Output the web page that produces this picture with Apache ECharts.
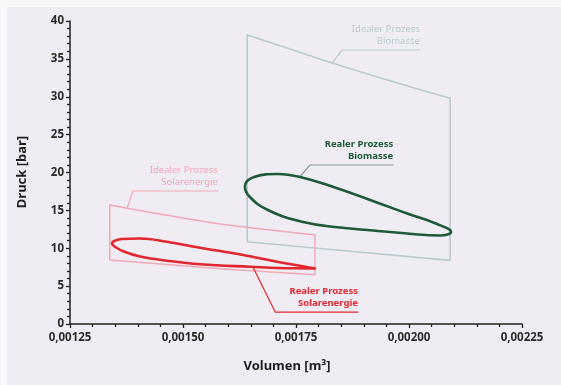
<!DOCTYPE html>
<html><head><meta charset="utf-8">
<script src="https://cdn.jsdelivr.net/npm/echarts@6/dist/echarts.min.js"></script>
<style>html,body{margin:0;padding:0;background:#f7f6fa}#c{width:561px;height:385px}</style>
</head><body><div id="c"></div><script>
// Axis ticks
const xMin = 0.00125, xMax = 0.00225, xStep = 0.00025;
const yMin = 0, yMax = 40, yStep = 5;

// Idealer Prozess Biomasse: top curve + sides/bottom
const idealBioTopV = [0.001642,0.001737,0.00183,0.001958,0.002091];
const idealBioTopP = [38.15,36.3,34.45,32.1,29.8];
const idealBioRestV = [0.002091,0.002091,0.00187,0.001642,0.001642];
const idealBioRestP = [29.8,8.4,9.6,10.85,38.15];

// Realer Prozess Biomasse (loop, starting mid upper branch)
const realBioV = [0.00192,0.001996,0.002062,0.002093,0.002069,0.001996,0.00192,0.001847,0.001763,0.001688,0.001648,0.001637,0.001659,0.001708,0.001759,0.001836,0.00192];
const realBioP = [16.24,14.59,13.2,12.15,11.68,11.95,12.34,12.74,13.5,15.05,16.77,18.13,19.45,19.8,19.41,18.02,16.24];

// Idealer Prozess Solarenergie: top curve + sides/bottom
const idealSolTopV = [0.001338,0.001449,0.001582,0.001792];
const idealSolTopP = [15.71,14.52,13.2,11.75];
const idealSolRestV = [0.001792,0.001792,0.001582,0.001338,0.001338];
const idealSolRestP = [11.75,6.5,7.3,8.45,15.71];

// Realer Prozess Solarenergie (loop)
const realSolV = [0.001792,0.001708,0.001633,0.001538,0.001464,0.001405,0.001365,0.001343,0.00135,0.001372,0.001405,0.001464,0.001538,0.001648,0.001743,0.001792];
const realSolP = [7.33,8.22,9.11,10.07,10.86,11.29,11.22,10.65,10.17,9.5,8.91,8.36,7.88,7.56,7.35,7.33];

// Leader lines (curve point -> underline start -> underline end)
const leadIdealBioV = [0.00183,0.001852,0.002024];
const leadIdealBioP = [34.45,36.17,36.17];
const leadRealBioV = [0.001759,0.001781,0.001965];
const leadRealBioP = [19.45,20.99,20.99];
const leadIdealSolV = [0.001376,0.001389,0.001577];
const leadIdealSolP = [15.25,17.56,17.56];
const leadRealSolV = [0.001655,0.001704,0.001887];
const leadRealSolP = [7.5,1.58,1.58];

const labelTexts = [
  ['Idealer Prozess','Biomasse'],
  ['Realer Prozess','Biomasse'],
  ['Idealer Prozess','Solarenergie'],
  ['Realer Prozess','Solarenergie']
];

const C_IB = '#b9cbd0', C_RB = '#1f5a38', C_IS = '#f2a9b7', C_RS = '#e3262f';
const FONT = 'Noto Sans';

const zip = (a,b) => a.map((v,i)=>[v,b[i]]);

const chart = echarts.init(document.getElementById('c'), null, {renderer:'canvas'});

function lineSeries(v,p,color,width,smooth,z){
  return {type:'line', data:zip(v,p), showSymbol:false, symbol:'none', smooth:smooth,
    lineStyle:{color:color,width:width,join:'round',cap:'round'}, z:z, silent:true, animation:false};
}

const option = {
  animation:false,
  backgroundColor:'#efedf3',
  grid:{left:70,right:39,top:21,bottom:61,containLabel:false},
  xAxis:{type:'value',min:xMin,max:xMax,interval:xStep,
    axisLine:{show:true,onZero:false,lineStyle:{color:'#222',width:1.5}},
    axisTick:{show:true,length:4,lineStyle:{color:'#222',width:1.3}},
    minorTick:{show:true,splitNumber:5,length:3,lineStyle:{color:'#222',width:1.3}},
    splitLine:{show:false},
    axisLabel:{margin:8,color:'#2a2a2a',fontFamily:FONT,fontWeight:'bold',fontSize:11.5,
      formatter:v=>v.toFixed(5).replace('.',',')}
  },
  yAxis:{type:'value',min:yMin,max:yMax,interval:yStep,
    axisLine:{show:true,lineStyle:{color:'#222',width:1.5}},
    axisTick:{show:true,length:4,lineStyle:{color:'#222',width:1.3}},
    minorTick:{show:true,splitNumber:5,length:3,lineStyle:{color:'#222',width:1.3}},
    splitLine:{show:false},
    axisLabel:{margin:6,color:'#2a2a2a',fontFamily:FONT,fontWeight:'bold',fontSize:11.5}
  },
  series:[
    lineSeries(idealBioTopV,idealBioTopP,C_IB,1.6,0.3,2),
    lineSeries(idealBioRestV,idealBioRestP,C_IB,1.6,false,2),
    lineSeries(idealSolTopV,idealSolTopP,C_IS,1.5,0.3,2),
    lineSeries(idealSolRestV,idealSolRestP,C_IS,1.5,false,2),
    lineSeries(realBioV,realBioP,C_RB,2.6,0.45,4),
    lineSeries(realSolV,realSolP,C_RS,2.6,0.4,4),
    lineSeries(leadIdealBioV,leadIdealBioP,C_IB,1.2,false,3),
    lineSeries(leadRealBioV,leadRealBioP,'#8a9aa0',1.2,false,3),
    lineSeries(leadIdealSolV,leadIdealSolP,C_IS,1.2,false,3),
    lineSeries(leadRealSolV,leadRealSolP,C_RS,1.2,false,3)
  ],
  graphic:[]
};
chart.setOption(option);

// Labels placed above underline end
const anchors = [
  [leadIdealBioV[2],leadIdealBioP[2],C_IB,'normal'],
  [leadRealBioV[2],leadRealBioP[2],C_RB,'bold'],
  [leadIdealSolV[2],leadIdealSolP[2],C_IS,'normal'],
  [leadRealSolV[2],leadRealSolP[2],C_RS,'bold']
];
const g = [
  {type:'rect',shape:{x:0,y:0,width:561,height:7},style:{fill:'#f8f8fb'},z:-1,silent:true},
  {type:'rect',shape:{x:0,y:0,width:7,height:385},style:{fill:'#f8f8fb'},z:-1,silent:true},
  {type:'text',x:22,y:172,rotation:Math.PI/2,style:{text:'Druck [bar]',fill:'#1e1e1e',font:'bold 13px "Noto Sans"',textAlign:'center',textVerticalAlign:'middle'}},
  {type:'text',x:287,y:366,style:{text:'Volumen [m³]',fill:'#1e1e1e',font:'bold 13px "Noto Sans"',textAlign:'center',textVerticalAlign:'middle'}}
];
anchors.forEach((a,i)=>{
  const p = chart.convertToPixel({gridIndex:0},[a[0],a[1]]);
  g.push({type:'text',x:p[0],y:p[1]-3,style:{text:labelTexts[i].join('\n'),fill:a[2],
    font:a[3]+' 9.5px "Noto Sans"',textAlign:'right',textVerticalAlign:'bottom',lineHeight:11.5},silent:true});
});
chart.setOption({graphic:g});
</script></body></html>
